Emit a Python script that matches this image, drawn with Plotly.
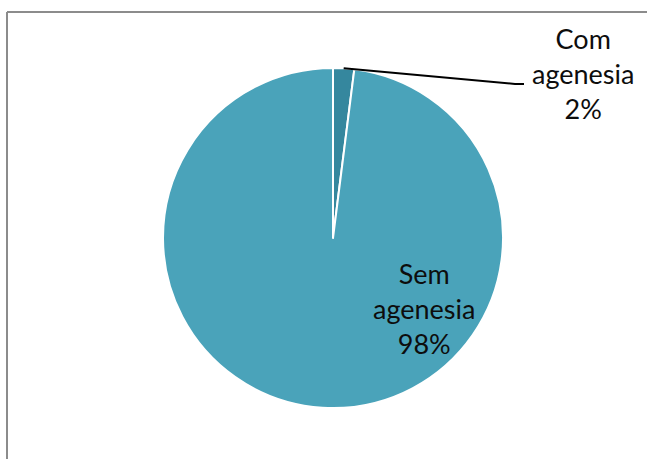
import math
import plotly.graph_objects as go

# Share of cases with / without agenesis
labels = ["Com agenesia", "Sem agenesia"]
values = [2, 98]
colors = ["#35879E", "#4AA3BA"]

W, H = 647, 459
cx, cy, r = 333, 238, 170  # pie centre and radius in pixels

fig = go.Figure(
    go.Pie(
        labels=labels,
        values=values,
        sort=False,
        direction="clockwise",
        rotation=0,
        textinfo="none",
        hoverinfo="label+percent",
        marker=dict(colors=colors, line=dict(color="white", width=2)),
        domain=dict(x=[(cx - r) / W, (cx + r) / W], y=[1 - (cy + r) / H, 1 - (cy - r) / H]),
        showlegend=False,
    )
)

total = sum(values)
pct = [round(v * 100 / total) for v in values]
font = dict(family="Lato, Open Sans, sans-serif", size=27, color="#0d0d0d")

# Outside label for the small slice
fig.add_annotation(
    x=583 / W, y=1 - 74 / H, xref="paper", yref="paper",
    xanchor="center", yanchor="middle",
    text=f"Com<br>agenesia<br>{pct[0]}%", showarrow=False, font=font, align="center",
)
# Inside label for the large slice
fig.add_annotation(
    x=424 / W, y=1 - 308 / H, xref="paper", yref="paper",
    xanchor="center", yanchor="middle",
    text=f"Sem<br>agenesia<br>{pct[1]}%", showarrow=False, font=font, align="center",
)

# Leader line from the middle of the small slice's outer edge
mid = math.radians(360 * values[0] / total / 2)
px0 = cx + r * math.sin(mid)
py0 = cy - r * math.cos(mid)
fig.add_shape(
    type="path", xref="paper", yref="paper",
    path=f"M {px0 / W} {1 - py0 / H} L {515 / W} {1 - 84 / H} L {524 / W} {1 - 84 / H}",
    line=dict(color="black", width=2),
)

# Chart frame (top and left edges visible)
frame = dict(color="#8c8c8c", width=2)
fig.add_shape(type="line", xref="paper", yref="paper",
              x0=7 / W, y0=1 - 12 / H, x1=1.01, y1=1 - 12 / H, line=frame)
fig.add_shape(type="line", xref="paper", yref="paper",
              x0=7 / W, y0=1 - 12 / H, x1=7 / W, y1=-0.01, line=frame)

fig.update_layout(
    width=W, height=H,
    margin=dict(l=0, r=0, t=0, b=0),
    paper_bgcolor="white",
    plot_bgcolor="white",
)

fig.write_html("out.html")
